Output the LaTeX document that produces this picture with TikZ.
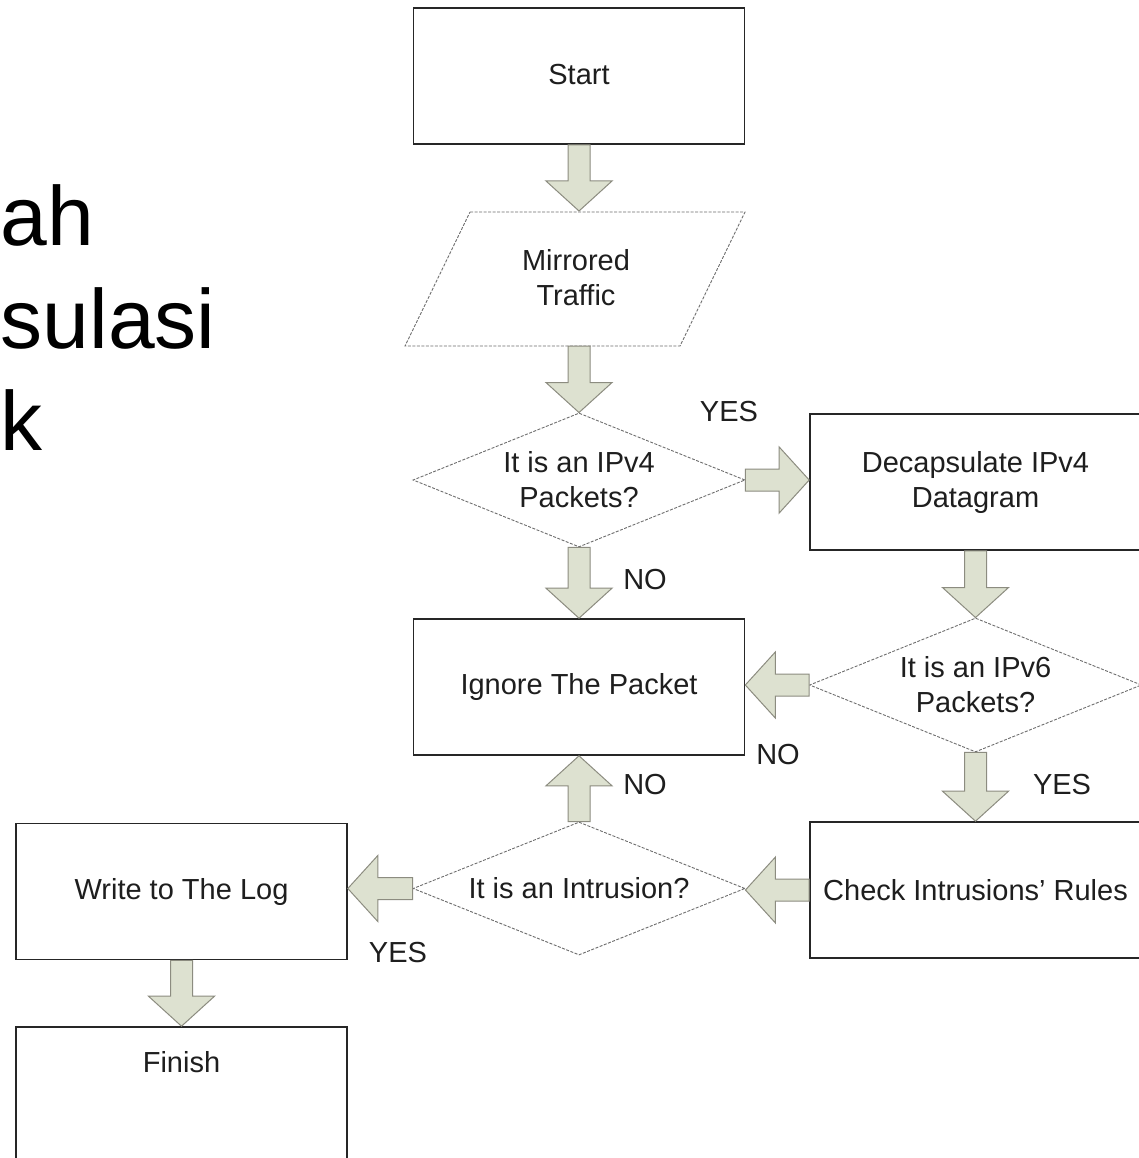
\documentclass[tikz,border=0pt]{standalone}
\usepackage{fontspec}
\setmainfont{Liberation Sans}
\usetikzlibrary{shapes.geometric,calc}
\definecolor{arrfill}{RGB}{221,225,208}
\definecolor{arrline}{RGB}{140,140,128}
\definecolor{txt}{RGB}{30,30,30}
\definecolor{decline}{RGB}{110,110,110}
\newcommand\lbl{\fontsize{29}{35}\selectfont}
\newcommand\bigtxt{\fontsize{84}{100}\selectfont}
% block arrow: from, to, unit direction x, unit direction y
\newcommand\barrow[4]{%
  \draw[blockarr] ($(#1)+({-11*(#4)},{11*(#3)})$)
    -- ($(#2)+({-30*(#3)-11*(#4)},{-30*(#4)+11*(#3)})$)
    -- ($(#2)+({-30*(#3)-33*(#4)},{-30*(#4)+33*(#3)})$)
    -- (#2)
    -- ($(#2)+({-30*(#3)+33*(#4)},{-30*(#4)-33*(#3)})$)
    -- ($(#2)+({-30*(#3)+11*(#4)},{-30*(#4)-11*(#3)})$)
    -- ($(#1)+({11*(#4)},{-11*(#3)})$) -- cycle;}
\begin{document}
\begin{tikzpicture}[x=1pt,y=-1pt,
  box/.style={draw=black!85,line width=1.6pt,minimum width=331pt,minimum height=136pt,
    inner sep=0pt,font=\lbl,text=txt,align=center},
  decshape/.style={shape=diamond,draw=decline,line width=0.9pt,dash pattern=on 3pt off 1.5pt,
    minimum width=332pt,minimum height=134pt,inner sep=0pt},
  declbl/.style={font=\lbl,text=txt,align=center,inner sep=0pt},
  lab/.style={font=\lbl,text=txt,inner sep=0pt},
  big/.style={font=\bigtxt,text=black,anchor=base west,inner sep=0pt},
  blockarr/.style={fill=arrfill,draw=arrline,line width=1pt,line join=miter}]
\useasboundingbox (0,0) rectangle (1139,1158);
\fill[white] (0,0) rectangle (1139,1158);
\clip (0,0) rectangle (1139,1158);

% left title fragments
\node[big] (t1) at (0.5,245) {ah};
\node[big] (t2) at (0.5,348) {sulasi};
\node[big] (t3) at (0.5,450) {k};

% nodes
\node[box] (start) at (579,76) {\raisebox{4pt}{Start}};
\draw[draw=decline,line width=0.9pt,dash pattern=on 3pt off 1.5pt]
  (470,212) -- (745,212) -- (680,346) -- (405,346) -- cycle;
\node[declbl] (mir) at (576,278) {Mirrored\\Traffic};
\coordinate (mirT) at (579,211);
\coordinate (mirB) at (579,346);

\node[decshape] (d1) at (579,480) {};
\node[declbl] (d1t) at (d1.center) {It is an IPv4\\Packets?};

\node[box] (decap) at (975.5,482) {Decapsulate IPv4\\Datagram};

\node[decshape] (d2) at (975.5,685) {};
\node[declbl] (d2t) at (d2.center) {It is an IPv6\\Packets?};

\node[box] (ignore) at (579,687) {Ignore The Packet};

\node[box] (check) at (975.5,890) {Check Intrusions' Rules};

\node[decshape,minimum height=133pt] (d3) at (579,888.5) {};
\node[declbl] (d3t) at (d3.center) {It is an Intrusion?};

\node[box] (write) at (181.5,891.5) {Write to The Log};
\node[box] (finish) at (181.5,1095) {};
\node[lab] (finisht) at (181.5,1062) {Finish};

% block arrows
\barrow{start.south}{mirT}{0}{1}
\barrow{mirB}{d1.north}{0}{1}
\barrow{d1.east}{d1.east -| decap.west}{1}{0}
\barrow{d1.south}{d1.south |- ignore.north}{0}{1}
\barrow{decap.south}{decap.south |- d2.north}{0}{1}
\barrow{d2.west}{d2.west -| ignore.east}{-1}{0}
\barrow{d2.south}{d2.south |- check.north}{0}{1}
\barrow{check.west}{check.west -| d3.east}{-1}{0}
\barrow{d3.north}{d3.north |- ignore.south}{0}{-1}
\barrow{d3.west}{d3.west -| write.east}{-1}{0}
\barrow{write.south}{write.south |- finish.north}{0}{1}

% labels
\node[lab] (y1) at (729,412) {YES};
\node[lab] (n1) at (645,580) {NO};
\node[lab] (n2) at (778,755) {NO};
\node[lab] (y2) at (1062,785) {YES};
\node[lab] (n3) at (645,785) {NO};
\node[lab] (y3) at (398,953) {YES};
\end{tikzpicture}
\end{document}
